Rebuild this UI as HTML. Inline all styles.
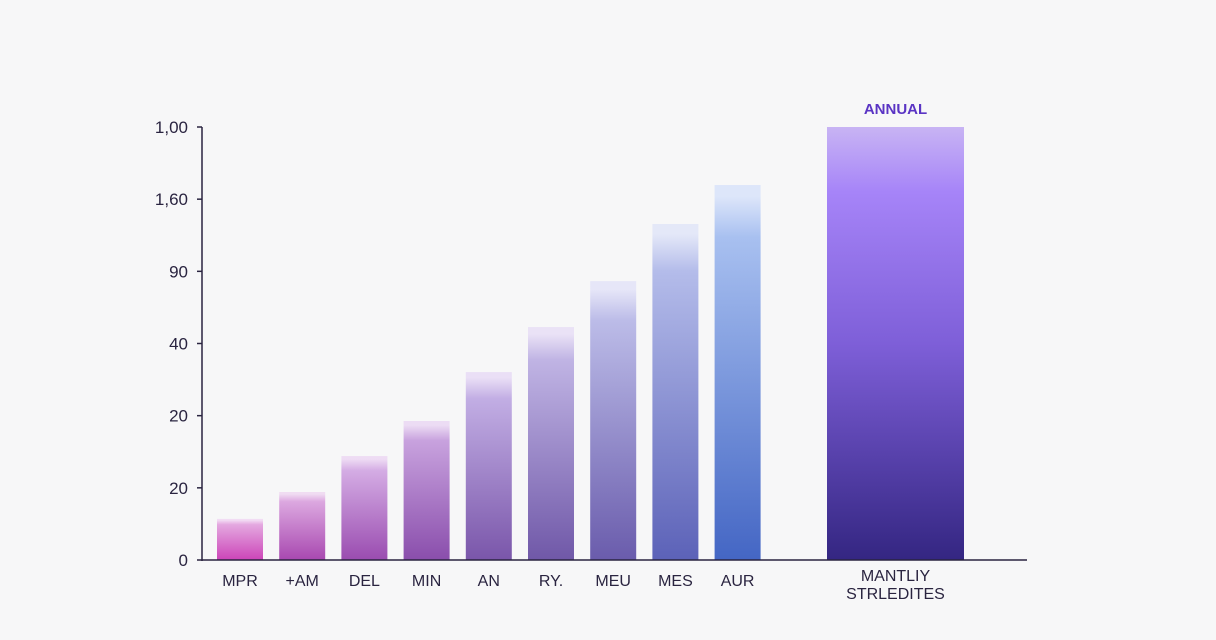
<!DOCTYPE html>
<html><head><meta charset="utf-8"><style>
body{margin:0;background:#f7f7f8;}
svg{display:block;font-family:"Liberation Sans",sans-serif;}
</style></head><body>
<svg id="chart" width="1216" height="640" viewBox="0 0 1216 640">
<defs id="defs"></defs>
<rect width="1216" height="640" fill="#f7f7f8"/>
<g id="marks"></g>
</svg>
<script>
const categories = ["MPR","+AM","DEL","MIN","AN","RY.","MEU","MES","AUR"];
const values = [9.5,15.7,24,32.1,43.4,53.8,64.4,77.6,86.6];
const annualValue = 100;
const tickLabels = ["0","20","20","40","90","1,60","1,00"];
const tickValues = [0,16.667,33.333,50,66.667,83.333,100];

const topColors = ["#f2dcf4","#f0dcf2","#eedcf4","#ecdcf4","#eadff6","#eae2f6","#e6e6f8","#e4e8f8","#dde6fa"];
const midColors = ["#e4a8e0","#dca8e0","#d4ace4","#c8a2de","#c2aee4","#c0b4e4","#bcbce8","#b4bcea","#a8c0f0"];
const botColors = ["#cc44b8","#a848b0","#9a4cb0","#8a4eac","#7a56aa","#7058a8","#6a5cac","#5c62b8","#4466c4"];

const NS="http://www.w3.org/2000/svg";
const y0=560, yTop=127, axisX=202;
const yScale=v=>y0-(v/100)*(y0-yTop);
const barW=46, step=62.2, firstX=217;
const xScale=i=>firstX+i*step;
const defs=document.getElementById('defs'), g=document.getElementById('marks');
function el(t,a){const e=document.createElementNS(NS,t);for(const k in a)e.setAttribute(k,a[k]);return e;}

function grad(id,stops){const lg=el('linearGradient',{id:id,x1:0,y1:0,x2:0,y2:1});stops.forEach(s=>lg.appendChild(el('stop',{offset:s[0],'stop-color':s[1]})));defs.appendChild(lg);}

categories.forEach((c,i)=>{
  grad('g'+i,[[0,topColors[i]],[0.03,topColors[i]],[0.14,midColors[i]],[1,botColors[i]]]);
  const y=yScale(values[i]);
  const r=el('rect',{x:xScale(i),y:y,width:barW,height:y0-y,fill:'url(#g'+i+')'});
  
  
  g.appendChild(r);
  const t=el('text',{x:xScale(i)+barW/2,y:586,'text-anchor':'middle','font-size':16,fill:'#2a2440'});
  t.textContent=c;
  
  
  g.appendChild(t);
});

grad('ga',[[0,'#c8b4f4'],[0.15,'#a684f8'],[0.5,'#7e5fd8'],[1,'#342682']]);
const ay=yScale(annualValue);
const ab=el('rect',{x:827,y:ay,width:137,height:y0-ay,fill:'url(#ga)'});


g.appendChild(ab);
const at=el('text',{x:895.5,y:ay-13,'text-anchor':'middle','font-size':15,'font-weight':'bold',fill:'#5a34c4'});
at.textContent='ANNUAL';


g.appendChild(at);
[['MANTLIY',581],['STRLEDITES',599]].forEach(([s,y])=>{
  const t=el('text',{x:895.5,y:y,'text-anchor':'middle','font-size':16,fill:'#2a2440'});
  t.textContent=s;
  
  
  g.appendChild(t);
});

const yl=el('line',{x1:axisX,y1:yTop,x2:axisX,y2:y0+1,stroke:'#2a2440','stroke-width':1.5});


g.appendChild(yl);
const xl=el('line',{x1:axisX,y1:y0,x2:1027,y2:y0,stroke:'#2a2440','stroke-width':1.5});


g.appendChild(xl);

tickValues.forEach((v,i)=>{
  const y=yScale(v);
  const tk=el('line',{x1:axisX-5,y1:y,x2:axisX,y2:y,stroke:'#2a2440','stroke-width':1.5});
  
  
  g.appendChild(tk);
  const t=el('text',{x:188,y:y+6,'text-anchor':'end','font-size':17,fill:'#2a2440'});
  t.textContent=tickLabels[i];
  
  
  g.appendChild(t);
});
</script>
</body></html>
